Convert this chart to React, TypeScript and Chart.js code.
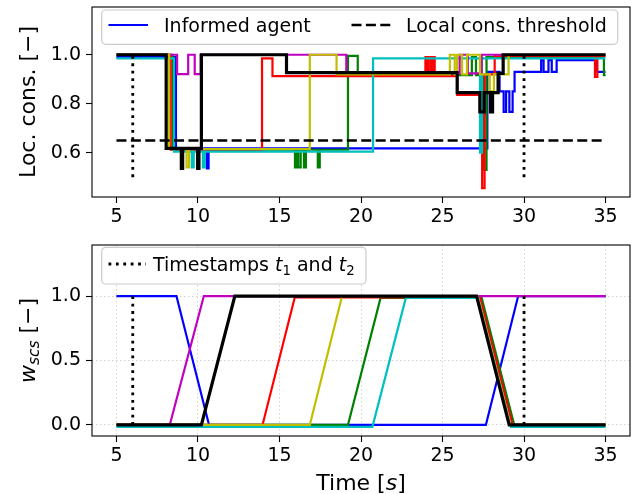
import React, { useEffect, useRef } from 'react';
import { Chart, registerables } from 'chart.js';

Chart.register(...registerables);

const FONT = '"DejaVu Sans", sans-serif';

// ---- axes / ticks ----
const xTicks = [5, 10, 15, 20, 25, 30, 35];
const topYTicks = [0.6, 0.8, 1.0];
const botYTicks = [0.0, 0.5, 1.0];
const timeStart = 5;
const timeEnd = 35;
const timestamps = [6, 30];
const threshold = 0.65;

// ---- colours ----
const cBlue = '#0000ff';
const cGreen = '#008000';
const cRed = '#ff0000';
const cCyan = '#00bfbf';
const cMag = '#bf00bf';
const cYel = '#bfbf00';
const cBlack = '#000000';

// ---- top plot: local consensus (step changes: time, new value) ----
const blueT = [5, 8.65, 10.55, 10.65, 27.75, 28.5, 28.75, 28.9, 29.1, 29.3, 29.42, 31.05, 31.2, 31.5, 31.7, 32.0, 34.45];
const blueV = [0.99, 0.618, 0.536, 0.618, 0.93, 0.85, 0.767, 0.85, 0.767, 0.85, 0.93, 0.978, 0.93, 0.978, 0.93, 0.978, 0.93];

const greenT = [5, 8.45, 15.95, 16.08, 16.15, 16.3, 16.5, 16.62, 17.35, 17.47, 19.2, 19.8, 26.8, 27.05, 27.55, 27.7, 34.9];
const greenV = [1.0, 0.612, 0.54, 0.612, 0.54, 0.612, 0.54, 0.612, 0.54, 0.612, 0.995, 0.917, 0.99, 0.917, 0.53, 0.99, 0.917];

const redT = [5, 8.33, 13.93, 14.57, 23.95, 24.03, 24.08, 24.16, 24.3, 24.38, 24.42, 24.52, 25.9, 27.43, 27.58, 28.2, 34.35, 34.5];
const redV = [1.0, 0.612, 0.985, 0.913, 0.99, 0.913, 0.99, 0.913, 0.99, 0.913, 0.99, 0.913, 0.836, 0.455, 0.92, 0.995, 0.91, 0.995];

const cyanT = [5, 8.53, 9.62, 9.74, 10.3, 10.42, 20.74, 27.3, 27.42];
const cyanV = [0.985, 0.604, 0.54, 0.604, 0.54, 0.604, 0.985, 0.6, 0.985];

const magT = [5, 8.72, 9.4, 9.8, 10.17, 19.1, 26.05, 26.55, 27.4];
const magV = [1.0, 0.921, 1.0, 0.921, 1.0, 0.924, 1.0, 0.924, 1.0];

const yelT = [5, 8.23, 9.3, 9.45, 16.86, 18.5, 25.45, 25.75, 25.9, 26.2, 26.5, 27.3, 27.9, 28.15, 29.05];
const yelV = [1.0, 0.615, 0.54, 0.615, 1.0, 0.92, 1.0, 0.92, 1.0, 0.92, 1.0, 0.92, 0.85, 0.92, 1.0];

const blackT = [5, 8.05, 8.98, 9.06, 9.98, 10.06, 10.21, 15.43, 25.9, 27.29, 27.55, 27.94, 28.07, 28.41, 28.72];
const blackV = [1.0, 0.618, 0.536, 0.618, 0.536, 0.618, 1.0, 0.927, 0.845, 0.767, 0.845, 0.767, 0.845, 0.924, 1.0];

// ---- bottom plot: w_scs (piecewise-linear knots) ----
const blueWT = [5, 8.68, 10.68, 27.66, 29.64, 35];
const blueWV = [1, 1, 0, 0, 1, 1];
const greenWT = [5, 19.2, 21.2, 27.4, 29.4, 35];
const greenWV = [0, 0, 0.985, 0.985, 0, 0];
const redWT = [5, 13.96, 15.94, 27.3, 29.3, 35];
const redWV = [0, 0, 0.99, 0.99, 0, 0];
const cyanWT = [5, 20.7, 22.75, 27.2, 29.2, 35];
const cyanWV = [-0.015, -0.015, 0.985, 0.985, -0.015, -0.015];
const magWT = [5, 8.27, 10.36, 35];
const magWV = [0, 0, 1, 1];
const yelWT = [5, 16.86, 18.84, 27.15, 29.15, 35];
const yelWV = [0, 0, 1, 1, 0, 0];
const blackWT = [5, 10.21, 12.26, 27.09, 29.09, 35];
const blackWV = [0, 0, 1, 1, 0, 0];

const agents = [
  { color: cBlue, T: blueT, V: blueV, WT: blueWT, WV: blueWV, w: 2.2 },
  { color: cGreen, T: greenT, V: greenV, WT: greenWT, WV: greenWV, w: 2.2 },
  { color: cRed, T: redT, V: redV, WT: redWT, WV: redWV, w: 2.2 },
  { color: cCyan, T: cyanT, V: cyanV, WT: cyanWT, WV: cyanWV, w: 2.2 },
  { color: cMag, T: magT, V: magV, WT: magWT, WV: magWV, w: 2.2 },
  { color: cYel, T: yelT, V: yelV, WT: yelWT, WV: yelWV, w: 2.2 },
  { color: cBlack, T: blackT, V: blackV, WT: blackWT, WV: blackWV, w: 3.2 },
];

type Seg = { t: string; it?: boolean; sub?: boolean };

function fontOf(s: Seg, size: number) {
  const sz = s.sub ? size * 0.7 : size;
  return `${s.it ? 'italic ' : ''}${sz}px ${FONT}`;
}
function richWidth(ctx: CanvasRenderingContext2D, segs: Seg[], size: number) {
  let w = 0;
  for (const s of segs) {
    ctx.font = fontOf(s, size);
    w += ctx.measureText(s.t).width;
  }
  return w;
}
function drawRich(ctx: CanvasRenderingContext2D, segs: Seg[], x: number, y: number, size: number) {
  let cx = x;
  ctx.textBaseline = 'alphabetic';
  ctx.textAlign = 'left';
  for (const s of segs) {
    ctx.font = fontOf(s, size);
    ctx.fillText(s.t, cx, s.sub ? y + size * 0.22 : y);
    cx += ctx.measureText(s.t).width;
  }
}
function roundRect(ctx: CanvasRenderingContext2D, x: number, y: number, w: number, h: number, r: number) {
  ctx.beginPath();
  ctx.moveTo(x + r, y);
  ctx.arcTo(x + w, y, x + w, y + h, r);
  ctx.arcTo(x + w, y + h, x, y + h, r);
  ctx.arcTo(x, y + h, x, y, r);
  ctx.arcTo(x, y, x + w, y, r);
  ctx.closePath();
}
function legendBox(ctx: CanvasRenderingContext2D, x: number, y: number, w: number, h: number) {
  roundRect(ctx, x, y, w, h, 4);
  ctx.fillStyle = 'rgba(255,255,255,0.85)';
  ctx.fill();
  ctx.strokeStyle = '#cccccc';
  ctx.lineWidth = 1.2;
  ctx.stroke();
}
function frame(ctx: CanvasRenderingContext2D, a: any) {
  ctx.strokeStyle = '#000';
  ctx.lineWidth = 1.1;
  ctx.setLineDash([]);
  ctx.strokeRect(a.left, a.top, a.right - a.left, a.bottom - a.top);
}
function yTitle(ctx: CanvasRenderingContext2D, segs: Seg[], x: number, cy: number, size: number) {
  ctx.save();
  ctx.translate(x, cy);
  ctx.rotate(-Math.PI / 2);
  ctx.fillStyle = '#000';
  const w = richWidth(ctx, segs, size);
  drawRich(ctx, segs, -w / 2, 0, size);
  ctx.restore();
}

const topDecor = {
  id: 'topDecor',
  afterDraw(chart: any) {
    const ctx = chart.ctx as CanvasRenderingContext2D;
    const a = chart.chartArea;
    ctx.save();
    frame(ctx, a);
    legendBox(ctx, a.left + 9.7, a.top + 3, 516, 34.3);
    const ly = a.top + 18;
    ctx.lineWidth = 2.2;
    ctx.strokeStyle = cBlue;
    ctx.beginPath();
    ctx.moveTo(a.left + 16.5, ly);
    ctx.lineTo(a.left + 56, ly);
    ctx.stroke();
    ctx.strokeStyle = '#000';
    ctx.lineWidth = 2.6;
    ctx.setLineDash([10, 4.4]);
    ctx.beginPath();
    ctx.moveTo(a.left + 259.5, ly);
    ctx.lineTo(a.left + 298.5, ly);
    ctx.stroke();
    ctx.setLineDash([]);
    ctx.fillStyle = '#000';
    drawRich(ctx, [{ t: 'Informed agent' }], a.left + 72, a.top + 25.3, 19);
    drawRich(ctx, [{ t: 'Local cons. threshold' }], a.left + 314, a.top + 25.3, 19);
    yTitle(ctx, [{ t: 'Loc. cons. [\u2212]' }], 34.5, (a.top + a.bottom) / 2, 22);
    ctx.restore();
  },
};

const botDecor = {
  id: 'botDecor',
  afterDraw(chart: any) {
    const ctx = chart.ctx as CanvasRenderingContext2D;
    const a = chart.chartArea;
    ctx.save();
    frame(ctx, a);
    legendBox(ctx, a.left + 9.7, a.top + 2.3, 264.3, 36.7);
    const ly = a.top + 19;
    ctx.strokeStyle = '#000';
    ctx.lineWidth = 2.8;
    ctx.setLineDash([2.8, 4.6]);
    ctx.beginPath();
    ctx.moveTo(a.left + 16.5, ly);
    ctx.lineTo(a.left + 54, ly);
    ctx.stroke();
    ctx.setLineDash([]);
    ctx.fillStyle = '#000';
    drawRich(
      ctx,
      [
        { t: 'Timestamps ' },
        { t: 't', it: true },
        { t: '1', sub: true },
        { t: ' and ' },
        { t: 't', it: true },
        { t: '2', sub: true },
      ],
      a.left + 61,
      a.top + 26,
      19
    );
    yTitle(
      ctx,
      [{ t: 'w', it: true }, { t: 'scs', it: true, sub: true }, { t: ' [\u2212]' }],
      34.5,
      (a.top + a.bottom) / 2,
      22
    );
    const tw = richWidth(ctx, [{ t: 'Time [' }, { t: 's', it: true }, { t: ']' }], 22);
    drawRich(ctx, [{ t: 'Time [' }, { t: 's', it: true }, { t: ']' }], (a.left + a.right) / 2 - tw / 2, 250, 22);
    ctx.restore();
  },
};

function makeOptions(yMin: number, yMax: number, yTicks: number[], xAxisHeight: number, padTop: number, grid: boolean) {
  const tickFont = { family: FONT, size: 19 };
  const gridOpts = {
    drawOnChartArea: grid,
    color: 'rgba(176,176,176,0.7)',
    lineWidth: 0.8,
    tickColor: '#000',
    tickLength: 6,
    tickWidth: 1.1,
  };
  return {
    responsive: false,
    animation: false as const,
    devicePixelRatio: 1,
    events: [] as any[],
    layout: { padding: { left: 0, right: 3, top: padTop, bottom: 0 } },
    plugins: { legend: { display: false }, tooltip: { enabled: false } },
    scales: {
      x: {
        type: 'linear' as const,
        min: 3.5,
        max: 36.5,
        afterBuildTicks: (s: any) => {
          s.ticks = xTicks.map((v) => ({ value: v }));
        },
        afterFit: (s: any) => {
          s.height = xAxisHeight;
          s.paddingLeft = 0;
          s.paddingRight = 0;
        },
        ticks: {
          color: '#000',
          font: tickFont,
          padding: 3,
          maxRotation: 0,
          autoSkip: false,
          callback: (v: any) => String(v),
        },
        grid: gridOpts,
        border: { display: false, dash: [1.5, 2.5] },
      },
      y: {
        type: 'linear' as const,
        min: yMin,
        max: yMax,
        afterBuildTicks: (s: any) => {
          s.ticks = yTicks.map((v) => ({ value: v }));
        },
        afterFit: (s: any) => {
          s.width = 92;
          s.paddingTop = 0;
          s.paddingBottom = 0;
        },
        ticks: {
          color: '#000',
          font: tickFont,
          padding: 5,
          autoSkip: false,
          callback: (v: any) => Number(v).toFixed(1),
        },
        grid: gridOpts,
        border: { display: false, dash: [1.5, 2.5] },
      },
    },
  };
}

function stepData(T: number[], V: number[]) {
  const pts = T.map((t, i) => ({ x: t, y: V[i] }));
  pts.push({ x: timeEnd, y: V[V.length - 1] });
  return pts;
}
function linData(T: number[], V: number[]) {
  return T.map((t, i) => ({ x: t, y: V[i] }));
}

export default function App() {
  const topRef = useRef<HTMLCanvasElement>(null);
  const botRef = useRef<HTMLCanvasElement>(null);

  useEffect(() => {
    const n = agents.length;
    const topSets: any[] = agents.map((ag, i) => ({
      data: stepData(ag.T, ag.V),
      borderColor: ag.color,
      borderWidth: ag.w,
      pointRadius: 0,
      stepped: true,
      fill: false,
      order: 10 + (n - i),
    }));
    topSets.push({
      data: [
        { x: timeStart, y: threshold },
        { x: timeEnd, y: threshold },
      ],
      borderColor: '#000',
      borderWidth: 2.6,
      borderDash: [10, 4.4],
      borderCapStyle: 'butt',
      pointRadius: 0,
      fill: false,
      order: 3,
    });
    timestamps.forEach((t, k) => {
      topSets.push({
        data: [
          { x: t, y: 0.5 },
          { x: t, y: 1.0 },
        ],
        borderColor: '#000',
        borderWidth: 2.8,
        borderDash: [2.8, 4.6],
        borderCapStyle: 'butt',
        pointRadius: 0,
        fill: false,
        order: 1 + k,
      });
    });

    const botSets: any[] = agents.map((ag, i) => ({
      data: linData(ag.WT, ag.WV),
      borderColor: ag.color,
      borderWidth: ag.w,
      pointRadius: 0,
      tension: 0,
      fill: false,
      order: 10 + (n - i),
    }));
    timestamps.forEach((t, k) => {
      botSets.push({
        data: [
          { x: t, y: 0 },
          { x: t, y: 1.0 },
        ],
        borderColor: '#000',
        borderWidth: 2.8,
        borderDash: [2.8, 4.6],
        borderCapStyle: 'butt',
        pointRadius: 0,
        fill: false,
        order: 1 + k,
      });
    });

    const top = new Chart(topRef.current!, {
      type: 'line',
      data: { datasets: topSets },
      options: makeOptions(0.419, 1.195, topYTicks, 43, 7, false) as any,
      plugins: [topDecor],
    });
    const bot = new Chart(botRef.current!, {
      type: 'line',
      data: { datasets: botSets },
      options: makeOptions(-0.086, 1.396, botYTicks, 58, 5, true) as any,
      plugins: [botDecor],
    });
    return () => {
      top.destroy();
      bot.destroy();
    };
  }, []);

  return (
    <div style={{ position: 'absolute', left: 0, top: 0, width: 633, height: 494, background: '#fff' }}>
      <canvas
        ref={topRef}
        width={633}
        height={240}
        style={{ position: 'absolute', left: 0, top: 0, width: 633, height: 240 }}
      />
      <canvas
        ref={botRef}
        width={633}
        height={254}
        style={{ position: 'absolute', left: 0, top: 240, width: 633, height: 254 }}
      />
    </div>
  );
}
